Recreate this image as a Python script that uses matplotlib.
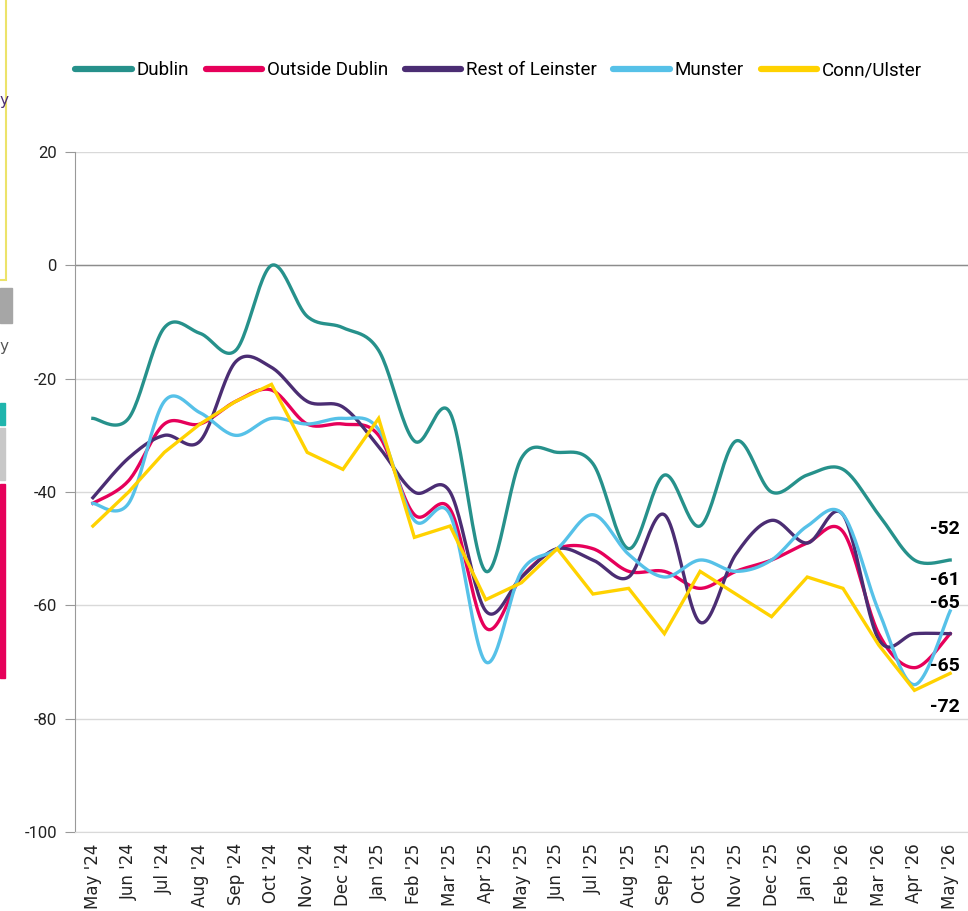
import numpy as np
import matplotlib
matplotlib.use("Agg")
import matplotlib.pyplot as plt
from matplotlib.patches import Rectangle

months = ["May '24", "Jun '24", "Jul '24", "Aug '24", "Sep '24", "Oct '24", "Nov '24",
          "Dec '24", "Jan '25", "Feb '25", "Mar '25", "Apr '25", "May '25", "Jun '25",
          "Jul '25", "Aug '25", "Sep '25", "Oct '25", "Nov '25", "Dec '25", "Jan '26",
          "Feb '26", "Mar '26", "Apr '26", "May '26"]

dublin = [-27, -27, -11, -12, -15, 0, -9, -11, -15, -31, -26, -54, -34, -33, -35,
          -50, -37, -46, -31, -40, -37, -36, -44, -52, -52]
outside_dublin = [-42, -38, -28, -28, -24, -22, -28, -28, -30, -44, -43, -64, -55, -50, -50,
                  -54, -54, -57, -54, -52, -49, -47, -65, -71, -65]
rest_leinster = [-41, -34, -30, -31, -17, -18, -24, -25, -32, -40, -40, -61, -55, -50, -52,
                 -55, -44, -63, -51, -45, -49, -44, -66, -65, -65]
munster = [-42, -42, -24, -26, -30, -27, -28, -27, -29, -45, -44, -70, -54, -50, -44,
           -51, -55, -52, -54, -52, -46, -44, -61, -74, -61]
conn_ulster = [-46, -40, -33, -28, -24, -21, -33, -36, -27, -48, -46, -59, -56, -50, -58,
               -57, -65, -54, -58, -62, -55, -57, -67, -75, -72]

series_names = ["Dublin", "Outside Dublin", "Rest of Leinster", "Munster", "Conn/Ulster"]
colors = ["#26918b", "#e6005a", "#4b2d73", "#56c1e8", "#ffd200"]


def smooth(xs, ys, n=24):
    # catmull-rom spline through the points (like excel's smoothed line)
    xs = np.asarray(xs, float)
    ys = np.asarray(ys, float)
    px = np.concatenate([[xs[0]], xs, [xs[-1]]])
    py = np.concatenate([[ys[0]], ys, [ys[-1]]])
    out_x, out_y = [], []
    t = np.linspace(0, 1, n, endpoint=False)
    for i in range(1, len(px) - 2):
        for arr, out in ((px, out_x), (py, out_y)):
            p0, p1, p2, p3 = arr[i - 1], arr[i], arr[i + 1], arr[i + 2]
            out.extend(0.5 * (2 * p1 + (-p0 + p2) * t
                              + (2 * p0 - 5 * p1 + 4 * p2 - p3) * t ** 2
                              + (-p0 + 3 * p1 - 3 * p2 + p3) * t ** 3))
    out_x.append(xs[-1])
    out_y.append(ys[-1])
    return np.array(out_x), np.array(out_y)


fig = plt.figure(figsize=(9.68, 9.11), dpi=100)
ax = fig.add_axes([0.0775, 0.0867, 0.9225, 0.7464])

x = np.arange(len(months))
data = [dublin, outside_dublin, rest_leinster, munster, conn_ulster]
for name, vals, c in zip(series_names, data, colors):
    if name == "Conn/Ulster":
        ax.plot(x, vals, color=c, lw=2.4, label=name, solid_joinstyle="miter", zorder=3)
    else:
        sx, sy = smooth(x, vals)
        ax.plot(sx, sy, color=c, lw=2.4, label=name, zorder=3)

# end labels
offsets = [22, 22, 22, -23, -24]
for vals, dy in zip([dublin, munster, rest_leinster, outside_dublin, conn_ulster], offsets):
    ax.annotate(str(vals[-1]), (x[-1], vals[-1]), xytext=(-4, dy), textcoords="offset points",
                ha="center", va="center", fontsize=14, fontweight="bold",
                family=["Roboto", "DejaVu Sans"], color="black", zorder=5)

ax.set_xlim(-0.5, len(months) - 0.5)
ax.set_ylim(-100, 20)
ax.set_yticks(range(-100, 21, 20))
ax.set_yticklabels([str(v) for v in range(-100, 21, 20)], family=["Roboto", "DejaVu Sans"],
                   fontsize=12, color="#222222")
ax.set_xticks(x)
ax.set_xticklabels(months, rotation=90, fontsize=12, color="#222222",
                   family=["DejaVu Sans"])
ax.tick_params(axis="x", length=0, pad=8)
ax.tick_params(axis="y", direction="out", length=7, color="#999999", pad=6)

ax.grid(axis="y", color="#d9d9d9", lw=1)
ax.axhline(0, color="#8c8c8c", lw=1, zorder=2)
ax.set_axisbelow(True)
for s in ["top", "right"]:
    ax.spines[s].set_visible(False)
ax.spines["left"].set_color("#999999")
ax.spines["bottom"].set_color("#d9d9d9")

leg = fig.legend(*ax.get_legend_handles_labels(), loc="center", ncol=5,
                 bbox_to_anchor=(0.515, 0.923), frameon=False, handlelength=3.0,
                 columnspacing=0.9, handletextpad=0.25,
                 prop={"family": ["Roboto", "DejaVu Sans"], "size": 13.5})
for h in leg.get_lines():
    h.set_linewidth(4.5)
    h.set_solid_capstyle("round")

# bits of the neighbouring panel cut off at the left edge
W, H = 968, 911
def px_rect(x0, y0, w, h, **kw):
    fig.patches.append(Rectangle((x0 / W, 1 - (y0 + h) / H), w / W, h / H,
                                 transform=fig.transFigure, figure=fig, **kw))

px_rect(-10, -5, 16, 285, fill=False, edgecolor="#ece36a", lw=1.5)
px_rect(0, 288, 12, 35, color="#a6a6a6")
px_rect(0, 403, 5, 22, color="#1fb5ad")
px_rect(0, 428, 5, 52, color="#c8c8c8")
px_rect(0, 484, 5, 194, color="#e6005a")
fig.text(0.0, 1 - 100 / H, "y", fontsize=11, color="#4b2d73", va="center", ha="left")
fig.text(0.0, 1 - 347 / H, "y", fontsize=11, color="#555555", va="center", ha="left")

fig.savefig("out.png", dpi=100)
